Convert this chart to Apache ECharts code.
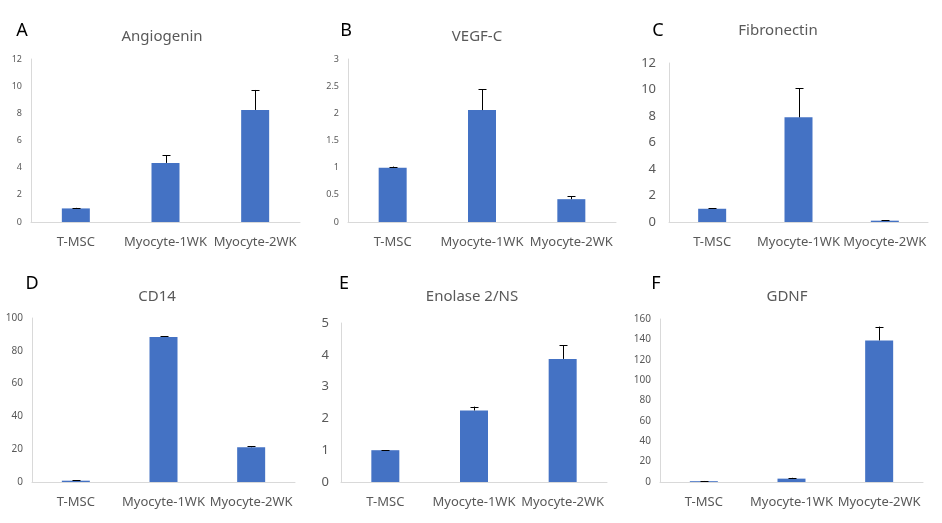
<!DOCTYPE html>
<html>
<head>
<meta charset="utf-8">
<script src="https://cdn.jsdelivr.net/npm/echarts@6/dist/echarts.min.js"></script>
<style>html,body{margin:0;padding:0;background:#fff}#c{width:942px;height:523px}</style>
</head>
<body>
<div id="c"></div>
<script>
const categories = ['T-MSC', 'Myocyte-1WK', 'Myocyte-2WK'];

const angiogenin = [1.0, 4.35, 8.25];
const angiogeninSD = [0.04, 0.58, 1.47];
const vegfc = [1.0, 2.06, 0.42];
const vegfcSD = [0.02, 0.38, 0.05];
const fibronectin = [1.0, 7.9, 0.1];
const fibronectinSD = [0.02, 2.2, 0.05];
const cd14 = [0.8, 88.4, 21.2];
const cd14SD = [0.4, 0.5, 0.6];
const enolase = [1.0, 2.25, 3.87];
const enolaseSD = [0.0, 0.12, 0.43];
const gdnf = [0.8, 3.3, 139];
const gdnfSD = [0.2, 0.8, 13.5];

const panelLetters = ['A', 'B', 'C', 'D', 'E', 'F'];
const panelTitles = ['Angiogenin', 'VEGF-C', 'Fibronectin', 'CD14', 'Enolase 2/NS', 'GDNF'];
const yMax = [12, 3, 12, 100, 5, 160];
const yInterval = [2, 0.5, 2, 20, 1, 20];
const values = [angiogenin, vegfc, fibronectin, cd14, enolase, gdnf];
const sds = [angiogeninSD, vegfcSD, fibronectinSD, cd14SD, enolaseSD, gdnfSD];

// layout
const grids = [
  {left: 31, top: 59, width: 269, height: 163},
  {left: 348, top: 59, width: 268, height: 163},
  {left: 669, top: 63, width: 259, height: 159},
  {left: 32, top: 318, width: 263, height: 164},
  {left: 341, top: 323, width: 266, height: 159},
  {left: 660, top: 319, width: 263, height: 163}
];
const tickFont = [9, 9, 13, 10, 13, 10];
const tickMargin = [9, 9, 13, 9, 12, 9];
const titlePos = [[157, 24], [472, 24], [773, 18], [152, 284], [467, 284], [782, 284]];
const letterPos = [[17, 17], [341, 17], [653, 17], [27, 270], [339, 270], [651, 270]];

const FONT = '"Noto Sans", "Noto Sans CJK KR", sans-serif';
const TXT = '#595959';
const BAR = '#4472C4';

const option = {
  animation: false,
  backgroundColor: '#fff',
  title: [],
  grid: [],
  xAxis: [],
  yAxis: [],
  series: []
};

for (let i = 0; i < 6; i++) {
  option.title.push({
    text: panelTitles[i], left: titlePos[i][0], top: titlePos[i][1], textAlign: 'center',
    textStyle: {fontFamily: FONT, fontSize: 15, fontWeight: 'normal', color: TXT}
  });
  option.title.push({
    text: panelLetters[i], left: letterPos[i][0], top: letterPos[i][1], textAlign: 'center',
    textStyle: {fontFamily: FONT, fontSize: 18, fontWeight: 'normal', color: '#000'}
  });
  option.grid.push(Object.assign({containLabel: false}, grids[i]));
  option.xAxis.push({
    type: 'category', gridIndex: i, data: categories,
    axisLine: {lineStyle: {color: '#d9d9d9', width: 1}},
    axisTick: {show: false},
    axisLabel: {fontFamily: FONT, fontSize: 13, color: TXT, margin: 14, interval: 0}
  });
  option.yAxis.push({
    type: 'value', gridIndex: i, min: 0, max: yMax[i], interval: yInterval[i],
    axisLine: {show: true, lineStyle: {color: '#d9d9d9', width: 1}},
    axisTick: {show: false},
    splitLine: {show: false},
    axisLabel: {fontFamily: FONT, fontSize: tickFont[i], color: TXT, margin: tickMargin[i]}
  });
  option.series.push({
    type: 'bar', xAxisIndex: i, yAxisIndex: i, data: values[i], barWidth: 28,
    itemStyle: {color: BAR}
  });
  const errData = values[i].map((v, k) => [k, v, v + sds[i][k]]);
  option.series.push({
    type: 'custom', xAxisIndex: i, yAxisIndex: i, data: errData, z: 5,
    renderItem: function (params, api) {
      const x = api.value(0);
      const p0 = api.coord([x, api.value(1)]);
      const p1 = api.coord([x, api.value(2)]);
      const cx = Math.round(p0[0]) + 0.5;
      const capW = 4;
      return {
        type: 'group',
        children: [
          {type: 'line', shape: {x1: cx, y1: p0[1], x2: cx, y2: p1[1]}, style: {stroke: '#000', lineWidth: 1}},
          {type: 'line', shape: {x1: cx - capW, y1: Math.round(p1[1]) + 0.5, x2: cx + capW, y2: Math.round(p1[1]) + 0.5}, style: {stroke: '#000', lineWidth: 1}}
        ]
      };
    }
  });
}

const chart = echarts.init(document.getElementById('c'), null, {renderer: 'canvas'});
chart.setOption(option);
</script>
</body>
</html>
